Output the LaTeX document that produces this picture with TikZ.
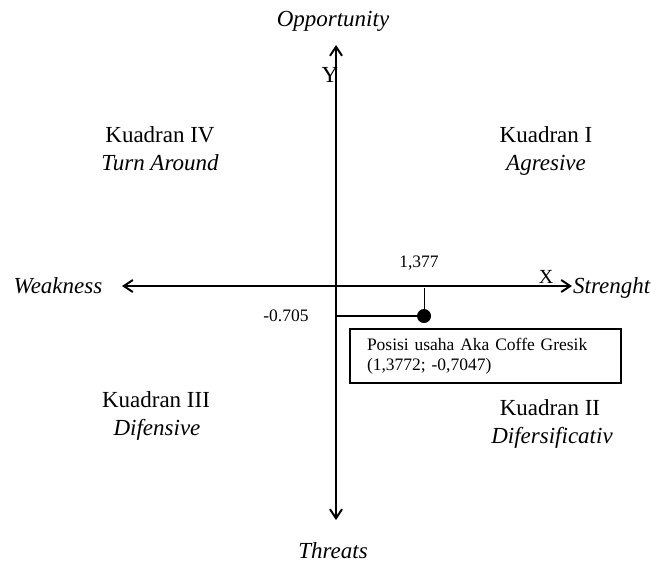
\documentclass[tikz,border=0pt]{standalone}
\usepackage{fontspec}
\setmainfont{Liberation Serif}
\usetikzlibrary{arrows.meta}

\begin{document}
\begin{tikzpicture}[x=0.5pt,y=-0.5pt,>={Straight Barb[length=4.5pt,width=6pt]},
    big_text/.style={font=\fontsize{11.5}{13}\selectfont,anchor=base,inner sep=0pt},
    small_text/.style={font=\fontsize{8.75}{10}\selectfont,anchor=base,inner sep=0pt},
    axis_line/.style={line width=1pt,<->}]
    \useasboundingbox (0,0) rectangle (651,563);
    % axes
    \coordinate (y_top) at (336,45);
    \coordinate (y_bottom) at (336,520);
    \coordinate (x_left) at (122,286);
    \coordinate (x_right) at (572,286);
    \draw[axis_line] (x_left) -- (x_right);
    \draw[axis_line] (y_bottom) -- (y_top);
    %
    \node[big_text] (Opportunity) at (333,26) {\textit{Opportunity}};
    \node[big_text] (Threats) at (333,558) {\textit{Threats}};
    \node[big_text] (Weakness) at (58,293) {\textit{Weakness}};
    \node[big_text] (Strenght) at (612,293) {\textit{Strenght}};
    \node[big_text] (Y_label) at (330,82) {Y};
    \node[small_text,font=\fontsize{10}{12}\selectfont] (X_label) at (546,283) {X};
    %
    \node[big_text] (kuadran_IV) at (160,142) {Kuadran IV};
    \node[big_text] (turn_around) at (160,170) {\textit{Turn Around}};
    \node[big_text] (kuadran_I) at (546,142) {Kuadran I};
    \node[big_text] (agresive) at (546,170) {\textit{Agresive}};
    \node[big_text] (kuadran_III) at (156,407) {Kuadran III};
    \node[big_text] (difensive) at (157,435) {\textit{Difensive}};
    \node[big_text] (kuadran_II) at (550,415) {Kuadran II};
    \node[big_text] (difersificativ) at (552,443) {\textit{Difersificativ}};
    % posisi usaha
    \node[circle,fill,inner sep=0pt,minimum size=7pt] (posisi) at (424,316) {};
    \coordinate (tick_top) at (424,288);
    \coordinate (y_axis_mark) at (336,316);
    \draw[line width=0.5pt] (tick_top) -- (posisi.center);
    \draw[line width=0.8pt] (y_axis_mark) -- (posisi.center);
    \node[small_text] (x_value) at (419,267) {1,377};
    \node[small_text] (y_value) at (286,321) {-0.705};
    \node[draw,line width=1pt,anchor=north west,minimum width=135.5pt,minimum height=27pt,
          inner xsep=8pt,text width=118.5pt,align=left,
          font=\fontsize{8.75}{10}\selectfont] (posisi_box) at (349,328)
          {Posisi usaha Aka Coffe Gresik\\(1,3772; -0,7047)};
\end{tikzpicture}
\end{document}
